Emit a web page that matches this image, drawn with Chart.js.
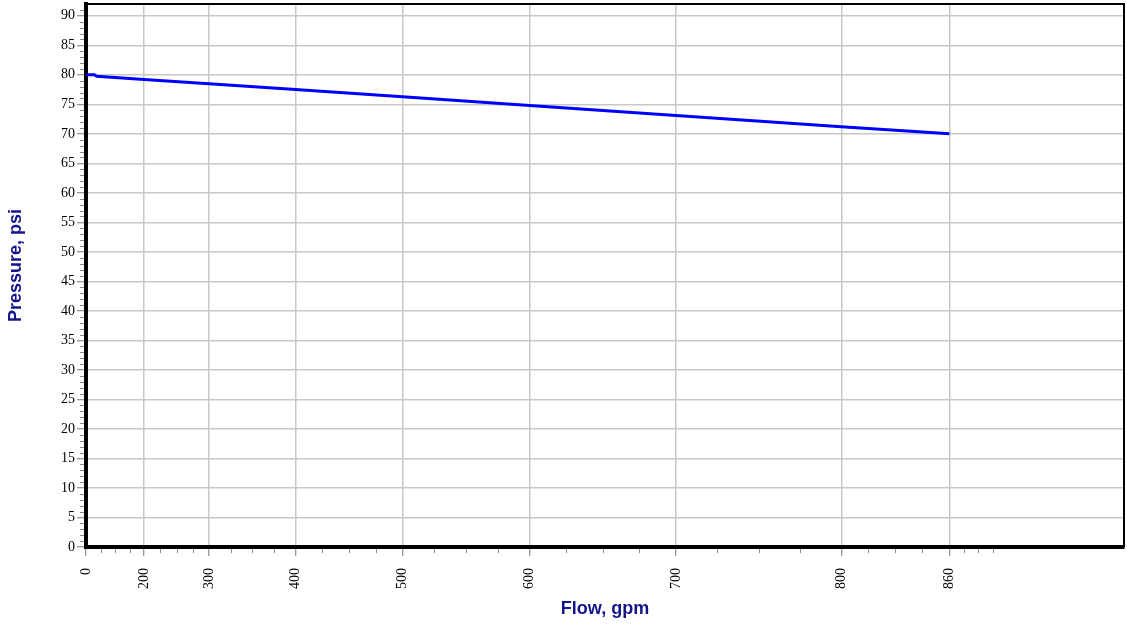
<!DOCTYPE html>
<html>
<head>
<meta charset="utf-8">
<title>Pressure vs Flow</title>
<script src="https://cdn.jsdelivr.net/npm/chart.js@4.4.1/dist/chart.umd.min.js"></script>
<style>
  html, body { margin: 0; padding: 0; background: #fff; }
  #chart { display: block; }
</style>
</head>
<body>
<canvas id="chart" width="1127" height="627"></canvas>
<script>
// flow (gpm) and pressure (psi)
const flowGpm = [0, 70, 80, 200, 300, 400, 500, 600, 700, 800, 860];
const pressurePsi = [80, 80, 79.75, 79.2, 78.5, 77.5, 76.3, 74.8, 73.1, 71.2, 70];

// axis ticks
const flowTicks = [0, 200, 300, 400, 500, 600, 700, 800, 860];
const pressureTicks = [0, 5, 10, 15, 20, 25, 30, 35, 40, 45, 50, 55, 60, 65, 70, 75, 80, 85, 90];
const pressureMinorTicks = [];
for (let v = 1; v <= 91; v++) if (v % 5 !== 0) pressureMinorTicks.push(v);

const FLOW_MAX = 950;
const PRESSURE_MAX = 92;
const EXP = 1.85; // hydraulic N^1.85 paper

const NAVY = '#14148c';

// x scale spaced as Q^1.85
class FlowPowerScale extends Chart.LinearScale {
  getPixelForValue(value) {
    const lo = Math.pow(this.min, EXP), hi = Math.pow(this.max, EXP);
    const t = Math.pow(Math.max(value, 0), EXP);
    return this.getPixelForDecimal((t - lo) / (hi - lo));
  }
  getValueForPixel(pixel) {
    const lo = Math.pow(this.min, EXP), hi = Math.pow(this.max, EXP);
    return Math.pow(lo + this.getDecimalForPixel(pixel) * (hi - lo), 1 / EXP);
  }
}
FlowPowerScale.id = 'flowpow';
FlowPowerScale.defaults = {};
Chart.register(FlowPowerScale);

// short ticks between the labelled ones, plus top / right frame
const frameAndMinor = {
  id: 'frameAndMinor',
  afterDraw(chart) {
    const { ctx, chartArea: a, scales } = chart;
    ctx.save();
    ctx.strokeStyle = '#888';
    ctx.lineWidth = 1;
    ctx.beginPath();
    pressureMinorTicks.forEach(v => {
      const y = Math.round(scales.y.getPixelForValue(v)) + 0.5;
      ctx.moveTo(a.left - 6, y);
      ctx.lineTo(a.left - 2, y);
    });
    const px = flowTicks.map(v => scales.x.getPixelForValue(v));
    for (let i = 0; i < px.length - 1; i++) {
      for (let k = 1; k < 4; k++) {
        const x = Math.round(px[i] + (px[i + 1] - px[i]) * k / 4) + 0.5;
        ctx.moveTo(x, a.bottom + 2);
        ctx.lineTo(x, a.bottom + 6);
      }
    }
    const step = (px[1] - px[0]) / 4;
    for (let k = 1; k < 4; k++) {
      const x = Math.round(px[px.length - 1] + step * k) + 0.5;
      ctx.moveTo(x, a.bottom + 2);
      ctx.lineTo(x, a.bottom + 6);
    }
    ctx.stroke();

    ctx.strokeStyle = '#000';
    ctx.lineWidth = 2;
    ctx.beginPath();
    ctx.moveTo(a.left, a.top);
    ctx.lineTo(a.right, a.top);
    ctx.lineTo(a.right, a.bottom);
    ctx.stroke();
    ctx.restore();
  }
};

new Chart(document.getElementById('chart'), {
  type: 'line',
  data: {
    datasets: [{
      label: 'Pressure',
      data: flowGpm.map((q, i) => ({ x: q, y: pressurePsi[i] })),
      borderColor: '#0000ff',
      borderWidth: 3,
      pointRadius: 0,
      tension: 0,
      fill: false
    }]
  },
  options: {
    responsive: false,
    animation: false,
    layout: { padding: { top: 4, right: 3, left: 0, bottom: 0 } },
    plugins: {
      legend: { display: false },
      tooltip: { enabled: false }
    },
    scales: {
      x: {
        type: 'flowpow',
        min: 0,
        max: FLOW_MAX,
        afterBuildTicks: s => { s.ticks = flowTicks.map(v => ({ value: v })); },
        afterFit: s => { s.height = 80; s.paddingLeft = 0; s.paddingRight = 0; },
        border: { color: '#000', width: 4 },
        grid: {
          color: c => (c.tick && c.tick.value === 0) ? 'rgba(0,0,0,0)' : '#c8c8c8',
          lineWidth: 1.5,
          tickColor: '#777',
          tickLength: 9,
          tickWidth: 1
        },
        ticks: {
          autoSkip: false,
          minRotation: 90,
          maxRotation: 90,
          padding: 12,
          color: '#000',
          font: { family: '"Liberation Serif", "Times New Roman", serif', size: 14 }
        },
        title: {
          display: true,
          text: 'Flow, gpm',
          color: NAVY,
          font: { family: '"Liberation Sans", Arial, sans-serif', size: 18, weight: 'bold' },
          padding: { top: 0, bottom: 7 }
        }
      },
      y: {
        type: 'linear',
        min: 0,
        max: PRESSURE_MAX,
        afterBuildTicks: s => { s.ticks = pressureTicks.map(v => ({ value: v })); },
        afterFit: s => { s.width = 86; s.paddingTop = 0; s.paddingBottom = 0; },
        border: { color: '#000', width: 4 },
        grid: {
          color: c => (c.tick && c.tick.value === 0) ? 'rgba(0,0,0,0)' : '#c8c8c8',
          lineWidth: 1.5,
          tickColor: '#777',
          tickLength: 9,
          tickWidth: 1
        },
        ticks: {
          padding: 2,
          color: '#000',
          font: { family: '"Liberation Serif", "Times New Roman", serif', size: 14 }
        },
        title: {
          display: true,
          text: '    Pressure, psi',
          color: NAVY,
          font: { family: '"Liberation Sans", Arial, sans-serif', size: 18, weight: 'bold' },
          padding: { top: 5, bottom: 0 }
        }
      }
    }
  },
  plugins: [frameAndMinor]
});
</script>
</body>
</html>
